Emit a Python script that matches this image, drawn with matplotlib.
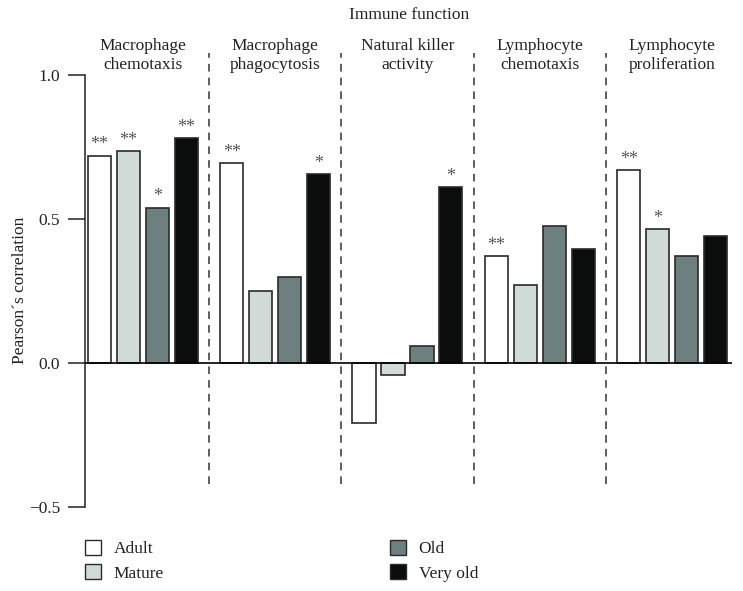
import numpy as np
import matplotlib
matplotlib.use("Agg")
import matplotlib.pyplot as plt
from matplotlib.patches import Patch

plt.rcParams["font.family"] = ["Liberation Serif", "DejaVu Serif"]

# Data
groups = ["Macrophage\nchemotaxis", "Macrophage\nphagocytosis", "Natural killer\nactivity",
          "Lymphocyte\nchemotaxis", "Lymphocyte\nproliferation"]
series = ["Adult", "Mature", "Old", "Very old"]
adult = [0.72, 0.695, -0.21, 0.37, 0.67]
mature = [0.735, 0.25, -0.04, 0.27, 0.465]
old = [0.54, 0.30, 0.06, 0.475, 0.37]
very_old = [0.78, 0.655, 0.61, 0.395, 0.44]
adult_sig = ["**", "**", "", "**", "**"]
mature_sig = ["**", "", "", "", "*"]
old_sig = ["*", "", "", "", ""]
very_old_sig = ["**", "*", "*", "", ""]

values = [adult, mature, old, very_old]
sigs = [adult_sig, mature_sig, old_sig, very_old_sig]
colors = ["#ffffff", "#d0dbd8", "#6d7f7f", "#0a0d0b"]
edge = "#2a2a2a"
text_col = "#222222"

group_gap = 4.57
offsets = [-1.5, -0.5, 0.5, 1.5]
centers = np.arange(len(groups)) * group_gap

fig = plt.figure(figsize=(7.43, 5.91), dpi=100)
ax = fig.add_axes([85 / 743, 1 - 507 / 591, (732 - 85) / 743, (507 - 52) / 591])

for vals, sig, col, off in zip(values, sigs, colors, offsets):
    xs = centers + off
    ax.bar(xs, vals, width=0.8, color=col, edgecolor=edge, linewidth=1.2, zorder=2)
    for x, v, s in zip(xs, vals, sig):
        if s:
            ax.text(x, v + 0.008, s, ha="center", va="bottom",
                    fontsize=13, color="#555555")

ax.axhline(0, color="black", linewidth=1.2, zorder=3)

# dashed separators between groups
for i in range(len(groups) - 1):
    xd = (centers[i] + centers[i + 1]) / 2
    ax.plot([xd, xd], [-0.42, 1.076], color="#333333", linestyle=(0, (5, 4)),
            linewidth=1.1)

for c, g in zip(centers, groups):
    ax.text(c, 1.068, g, ha="center", va="center", fontsize=12.5, color=text_col,
            linespacing=1.3, clip_on=False)

ax.set_xlim(-2.0, centers[-1] + 2.07)
ax.set_ylim(-0.5, 1.08)
ax.set_yticks([-0.5, 0.0, 0.5, 1.0])
ax.set_yticklabels(["\u22120.5", "0.0", "0.5", "1.0"])
ax.tick_params(axis="y", length=12, width=1.1, pad=6, labelsize=12.5, labelcolor=text_col,
               color="#222222")
ax.set_xticks([])
for s in ["top", "right", "bottom"]:
    ax.spines[s].set_visible(False)
ax.spines["left"].set_bounds(-0.5, 1.0)
ax.spines["left"].set_linewidth(1.1)
ax.spines["left"].set_color("#222222")

fig.text(20 / 743, 1 - 290 / 591, "Pearson\u00b4s correlation", rotation=90,
         ha="center", va="center", fontsize=12.5, color=text_col)
fig.text(409 / 743, 1 - 15 / 591, "Immune function", ha="center", va="center",
         fontsize=12.5, color=text_col)

handles = [Patch(facecolor=c, edgecolor=edge, linewidth=1.0) for c in colors]
leg_kw = dict(loc="upper left", frameon=False, fontsize=12.5, handlelength=0.95,
              handleheight=0.95, handletextpad=0.7, labelspacing=0.4,
              labelcolor=text_col, borderpad=0.0, borderaxespad=0.0)
fig.legend(handles[:2], series[:2], bbox_to_anchor=(85 / 743, 1 - 540 / 591), **leg_kw)
fig.legend(handles[2:], series[2:], bbox_to_anchor=(390 / 743, 1 - 540 / 591), **leg_kw)

fig.savefig("out.png", dpi=100)
